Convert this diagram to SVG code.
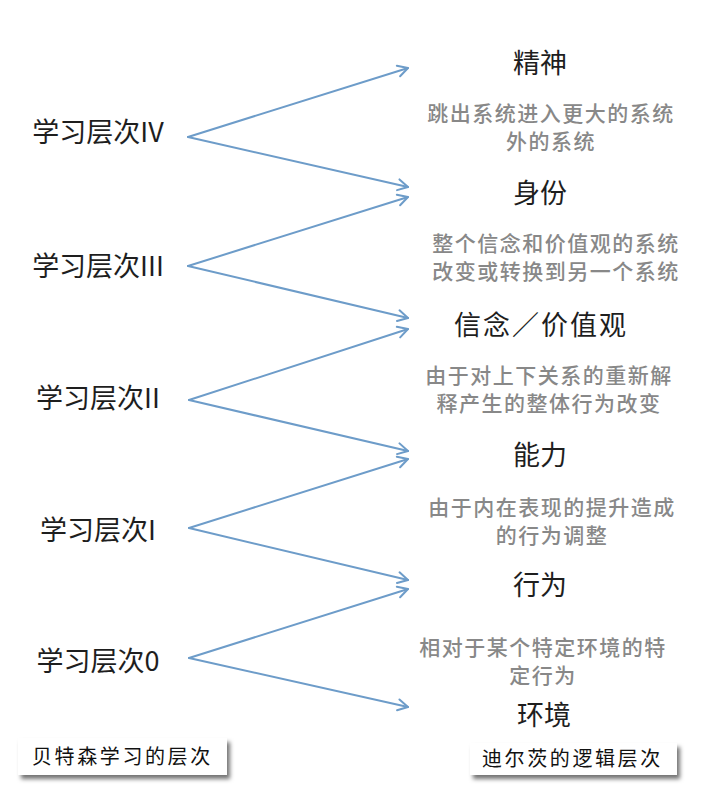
<svg xmlns="http://www.w3.org/2000/svg" width="720" height="790" viewBox="0 0 720 790">
<style>
.lvl{font-family:"Noto Sans CJK SC","Noto Sans",sans-serif;font-size:27px;fill:#1e1e1e;text-anchor:middle}
.ttl{font-family:"Noto Sans CJK SC","Noto Sans",sans-serif;font-size:27px;fill:#1e1e1e;text-anchor:middle}
.dsc{font-family:"Noto Sans CJK SC","Noto Sans",sans-serif;font-size:21px;fill:#888;text-anchor:middle;letter-spacing:1.5px;font-weight:500}
.cap{font-family:"Noto Sans CJK SC",sans-serif;font-size:20px;fill:#111;letter-spacing:2.6px}
.box{fill:#fff}
.arr{fill:none;stroke:#6d9cc9;stroke-width:2;stroke-linecap:round;stroke-linejoin:round}
</style>
<defs>
<marker id="head" viewBox="0 0 14 14" refX="12" refY="7" markerWidth="14" markerHeight="14" markerUnits="userSpaceOnUse" orient="auto">
<path d="M2,1.5 L12,7 L2,12.5" fill="none" stroke="#6d9cc9" stroke-width="2" stroke-linecap="round" stroke-linejoin="round"/>
</marker>
<filter id="sh" x="-10%" y="-30%" width="125%" height="180%">
<feDropShadow dx="3" dy="4" stdDeviation="2" flood-color="#000" flood-opacity="0.55"/>
</filter>
</defs>
<rect width="720" height="790" fill="#fff"/>

<g id="connectors">
<path class="arr" d="M188,137 L408,68" marker-end="url(#head)"/>
<path class="arr" d="M188,137 L408,187" marker-end="url(#head)"/>
<path class="arr" d="M188,266 L408,197" marker-end="url(#head)"/>
<path class="arr" d="M188,266 L408,318" marker-end="url(#head)"/>
<path class="arr" d="M189,400 L408,329" marker-end="url(#head)"/>
<path class="arr" d="M189,400 L408,451" marker-end="url(#head)"/>
<path class="arr" d="M189,528 L408,459" marker-end="url(#head)"/>
<path class="arr" d="M189,528 L408,580" marker-end="url(#head)"/>
<path class="arr" d="M189,658 L408,589" marker-end="url(#head)"/>
<path class="arr" d="M189,658 L408,707" marker-end="url(#head)"/>
</g>

<g id="level4"><text class="lvl" x="98" y="142">学习层次IV</text></g>
<g id="level3"><text class="lvl" x="98" y="276">学习层次III</text></g>
<g id="level2"><text class="lvl" x="98" y="408">学习层次II</text></g>
<g id="level1"><text class="lvl" x="98" y="540">学习层次I</text></g>
<g id="level0"><text class="lvl" x="98" y="671">学习层次0</text></g>

<g id="spirit"><text class="ttl" x="540" y="73">精神</text></g>
<g id="desc-spirit">
<text class="dsc" x="551" y="121">跳出系统进入更大的系统</text>
<text class="dsc" x="551" y="149">外的系统</text>
</g>
<g id="identity"><text class="ttl" x="540" y="203">身份</text></g>
<g id="desc-identity">
<text class="dsc" x="556" y="251">整个信念和价值观的系统</text>
<text class="dsc" x="556" y="279">改变或转换到另一个系统</text>
</g>
<g id="belief"><text class="ttl" x="541" y="335" style="letter-spacing:2px">信念／价值观</text></g>
<g id="desc-belief">
<text class="dsc" x="549" y="383">由于对上下关系的重新解</text>
<text class="dsc" x="549" y="411">释产生的整体行为改变</text>
</g>
<g id="capability"><text class="ttl" x="540" y="465">能力</text></g>
<g id="desc-capability">
<text class="dsc" x="552" y="515">由于内在表现的提升造成</text>
<text class="dsc" x="552" y="543">的行为调整</text>
</g>
<g id="behavior"><text class="ttl" x="540" y="595">行为</text></g>
<g id="desc-behavior">
<text class="dsc" x="543" y="655">相对于某个特定环境的特</text>
<text class="dsc" x="543" y="683">定行为</text>
</g>
<g id="environment"><text class="ttl" x="544" y="725">环境</text></g>

<g id="caption-left">
<rect class="box" x="18" y="738" width="209" height="37" filter="url(#sh)"/>
<text class="cap" x="32" y="764">贝特森学习的层次</text>
</g>
<g id="caption-right">
<rect class="box" x="470" y="743" width="207" height="32" filter="url(#sh)"/>
<text class="cap" x="482" y="766">迪尔茨的逻辑层次</text>
</g>
</svg>
